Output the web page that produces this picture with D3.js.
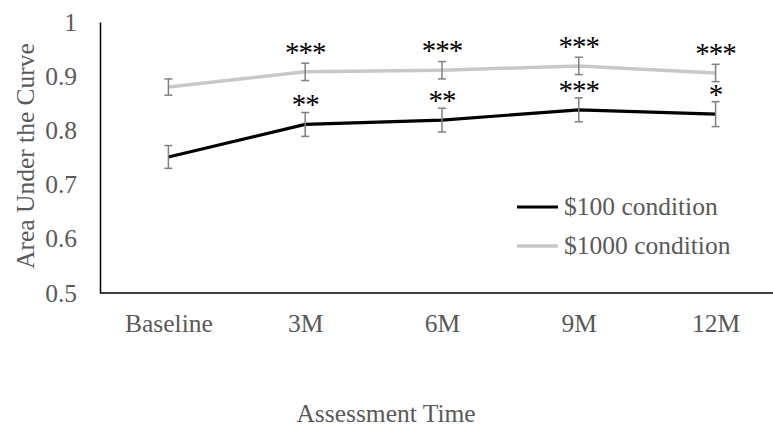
<!DOCTYPE html>
<html>
<head>
<meta charset="utf-8">
<script src="https://cdn.jsdelivr.net/npm/d3@7"></script>
<style>
  html, body { margin: 0; padding: 0; background: #fff; }
  svg { display: block; }
</style>
</head>
<body>
<svg id="chart" width="773" height="427"></svg>
<script>
// Assessment points and AUC means with standard errors
const categories = ["Baseline", "3M", "6M", "9M", "12M"];
const auc100 = [0.751, 0.811, 0.819, 0.838, 0.830];
const err100 = [0.021, 0.022, 0.022, 0.022, 0.023];
const sig100 = ["", "**", "**", "***", "*"];
const auc1000 = [0.880, 0.908, 0.911, 0.919, 0.906];
const err1000 = [0.015, 0.016, 0.016, 0.016, 0.016];
const sig1000 = ["", "***", "***", "***", "***"];
const yTicks = [0.5, 0.6, 0.7, 0.8, 0.9, 1];
const seriesNames = ["$100 condition", "$1000 condition"];

(function () {
  const FONT = "'Liberation Serif', 'Times New Roman', serif";
  const FS = 25.5;
  const labelColor = "#595959";

  const svg = d3.select("#chart");
  const plotLeft = 100, plotTop = 22, plotBottom = 293, plotRight = 784;

  const x = d3.scalePoint().domain(categories).range([plotLeft, plotRight]).padding(0.5);
  const y = d3.scaleLinear().domain([0.5, 1]).range([plotBottom, plotTop]);

  // y axis
  const yAxis = svg.append("g").attr("transform", `translate(${plotLeft},0)`)
    .call(d3.axisLeft(y).tickValues(yTicks).tickSize(0).tickPadding(23)
      .tickFormat(d => d === 1 ? "1" : d3.format(".1f")(d)));
  yAxis.select(".domain").attr("stroke", "#000").attr("stroke-width", 1.5);
  yAxis.selectAll("text").attr("fill", labelColor).attr("font-size", FS)
    .attr("font-family", FONT);

  // x axis
  const xAxis = svg.append("g").attr("transform", `translate(0,${plotBottom})`)
    .call(d3.axisBottom(x).tickSize(0).tickPadding(21));
  xAxis.select(".domain").attr("stroke", "#000").attr("stroke-width", 1.5)
    .attr("d", `M${plotLeft},0H773`);
  xAxis.selectAll("text").attr("fill", labelColor).attr("font-size", FS)
    .attr("font-family", FONT);

  // axis titles
  svg.append("text").attr("x", 386).attr("y", 422)
    .attr("text-anchor", "middle").attr("fill", labelColor)
    .attr("font-size", FS).attr("font-family", FONT)
    .text("Assessment Time");
  svg.append("text")
    .attr("transform", `translate(34,156) rotate(-90)`)
    .attr("text-anchor", "middle").attr("fill", labelColor)
    .attr("font-size", FS).attr("font-family", FONT)
    .text("Area Under the Curve");

  const series = [
    { vals: auc1000, errs: err1000, sig: sig1000, color: "#c8c8c8", width: 3.5 },
    { vals: auc100, errs: err100, sig: sig100, color: "#000000", width: 3.2 }
  ];

  const line = d3.line().x((d, i) => x(categories[i])).y(d => y(d));

  series.forEach(s => {
    svg.append("path").datum(s.vals)
      .attr("fill", "none").attr("stroke", s.color).attr("stroke-width", s.width)
      .attr("d", line);
  });

  // error bars
  series.forEach(s => {
    const g = svg.append("g").attr("stroke", "#808080").attr("stroke-width", 1.5);
    s.vals.forEach((v, i) => {
      const cx = x(categories[i]);
      const y1 = y(v + s.errs[i]), y2 = y(v - s.errs[i]);
      g.append("line").attr("x1", cx).attr("x2", cx).attr("y1", y1).attr("y2", y2);
      g.append("line").attr("x1", cx - 4).attr("x2", cx + 4).attr("y1", y1).attr("y2", y1);
      g.append("line").attr("x1", cx - 4).attr("x2", cx + 4).attr("y1", y2).attr("y2", y2);
    });
  });

  // significance markers above each mean
  series.forEach(s => {
    s.vals.forEach((v, i) => {
      if (!s.sig[i]) return;
      svg.append("text")
        .attr("x", x(categories[i])).attr("y", y(v) - 10)
        .attr("text-anchor", "middle").attr("font-size", 29).attr("fill", "#000")
        .attr("font-family", FONT).attr("letter-spacing", -1)
        .text(s.sig[i]);
    });
  });

  // legend
  const legend = [
    { name: seriesNames[0], color: "#000000", width: 3.2, y: 207 },
    { name: seriesNames[1], color: "#c8c8c8", width: 3.5, y: 246 }
  ];
  legend.forEach(l => {
    svg.append("line").attr("x1", 517).attr("x2", 558).attr("y1", l.y).attr("y2", l.y)
      .attr("stroke", l.color).attr("stroke-width", l.width);
    svg.append("text").attr("x", 564).attr("y", l.y + 8)
      .attr("fill", labelColor).attr("font-size", FS).attr("font-family", FONT)
      .text(l.name);
  });
})();
</script>
</body>
</html>
